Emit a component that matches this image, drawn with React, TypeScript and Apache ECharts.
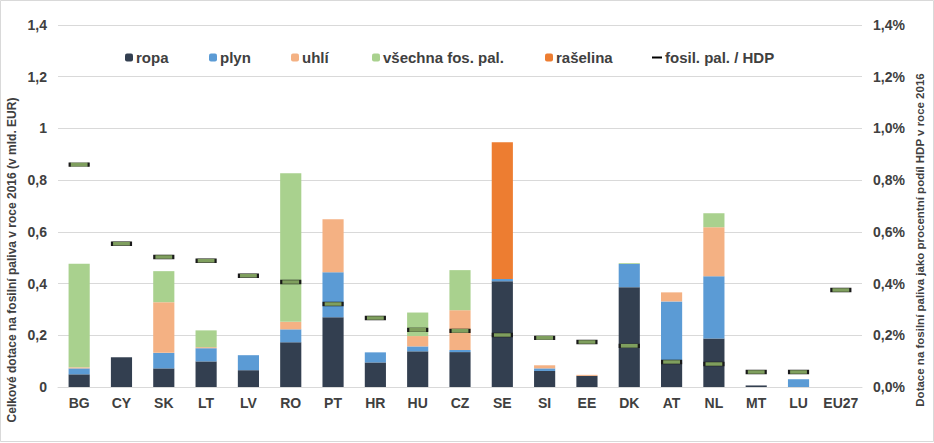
import React, { useEffect, useRef } from "react";
import * as echarts from "echarts";

const categories = ["BG","CY","SK","LT","LV","RO","PT","HR","HU","CZ","SE","SI","EE","DK","AT","NL","MT","LU","EU27"];
const ropa = [0.049,0.115,0.072,0.099,0.065,0.173,0.27,0.095,0.138,0.135,0.409,0.062,0.043,0.386,0.095,0.188,0.006,0,null];
const plyn = [0.023,0,0.06,0.051,0.058,0.05,0.174,0.039,0.019,0.008,0.009,0.01,0,0.09,0.236,0.24,0,0.03,null];
const uhli = [0.004,0,0.196,0.004,0,0.029,0.205,0,0.04,0.154,0,0.012,0.004,0,0.035,0.19,0,0,null];
const vsechna = [0.401,0,0.12,0.065,0,0.575,0,0,0.091,0.155,0,0,0,0.003,0,0.054,0,0,null];
const raselina = [0,0,0,0,0,0,0,0,0,0,0.529,0,0,0,0,0,0,0,null];
const hdp = [0.86,0.554,0.503,0.488,0.43,0.406,0.321,0.267,0.221,0.217,0.201,0.19,0.174,0.159,0.097,0.089,0.058,0.058,0.375];

const leftTicks = [0, 0.2, 0.4, 0.6, 0.8, 1, 1.2, 1.4];

const FONT = "'Liberation Sans', Arial, sans-serif";
const TXT = "#404040";

export default function App() {
  const ref = useRef<HTMLDivElement>(null);
  useEffect(() => {
    document.body.style.margin = "0";
    const chart = echarts.init(ref.current!, null, { renderer: "svg" });
    const legendBase = {
      top: 45,
      itemWidth: 8,
      itemHeight: 8,
      itemGap: 0,
      textStyle: { fontFamily: FONT, fontSize: 15, color: TXT, fontWeight: "bold" as const, padding: [0, 0, 0, -2] },
    };
    const bar = (name: string, data: (number | null)[], color: string) => ({
      name,
      type: "bar",
      stack: "a",
      data,
      barWidth: "50%",
      itemStyle: { color },
      emphasis: { disabled: true },
    });
    chart.setOption({
      animation: false,
      textStyle: { fontFamily: FONT },
      grid: { left: 58, right: 72, top: 25, bottom: 56 },
      legend: [
        { ...legendBase, left: 120, data: ["ropa"] },
        { ...legendBase, left: 204, data: ["plyn"] },
        { ...legendBase, left: 286, data: ["uhlí"] },
        { ...legendBase, left: 367, data: ["všechna fos. pal."] },
        { ...legendBase, left: 540, data: ["rašelina"] },
        {
          ...legendBase,
          left: 647,
          itemWidth: 10,
          itemHeight: 2,
          data: [{ name: "fosil. pal. / HDP", icon: "rect", itemStyle: { color: "#000", borderWidth: 0 } }],
        },
      ],
      xAxis: {
        type: "category",
        data: categories,
        axisLine: { lineStyle: { color: "#d9d9d9" } },
        axisTick: { show: false },
        axisLabel: { interval: 0, color: TXT, fontSize: 14, fontWeight: "bold", margin: 9, fontFamily: FONT },
      },
      yAxis: [
        {
          type: "value",
          min: 0,
          max: 1.4,
          interval: 0.2,
          splitLine: { lineStyle: { color: "#d9d9d9" } },
          axisLine: { show: false },
          axisTick: { show: false },
          axisLabel: {
            color: TXT,
            fontSize: 14,
            fontWeight: "bold",
            margin: 11,
            fontFamily: FONT,
            formatter: (v: number) => {
              const t = leftTicks.find((x) => Math.abs(x - v) < 1e-6);
              const val = t !== undefined ? t : v;
              return String(Math.round(val * 10) / 10).replace(".", ",");
            },
          },
        },
        {
          type: "value",
          min: 0,
          max: 1.4,
          interval: 0.2,
          splitLine: { show: false },
          axisLine: { show: false },
          axisTick: { show: false },
          axisLabel: {
            color: TXT,
            fontSize: 14,
            fontWeight: "bold",
            margin: 11,
            fontFamily: FONT,
            formatter: (v: number) => (Math.round(v * 10) / 10).toFixed(1).replace(".", ",") + "%",
          },
        },
      ],
      series: [
        bar("ropa", ropa, "#333f50"),
        bar("plyn", plyn, "#5b9bd5"),
        bar("uhlí", uhli, "#f4b183"),
        bar("všechna fos. pal.", vsechna, "#a9d18e"),
        bar("rašelina", raselina, "#ed7d31"),
        {
          name: "fosil. pal. / HDP",
          type: "scatter",
          yAxisIndex: 1,
          data: hdp,
          symbol: "rect",
          symbolSize: [19, 4],
          z: 10,
          itemStyle: { color: "#7f9f5e", borderColor: "#1a1a1a", borderWidth: 1, opacity: 1 },
          emphasis: { disabled: true },
        },
      ],
      graphic: [
        {
          type: "rect",
          shape: { x: 0.5, y: 0.5, width: 933, height: 441 },
          style: { fill: "none", stroke: "#d9d9d9", lineWidth: 1 },
          silent: true,
        },
        {
          type: "text",
          x: 12,
          y: 260,
          rotation: Math.PI / 2,
          style: {
            text: "Celkové dotace na fosilní paliva v roce 2016 (v mld. EUR)",
            fontFamily: FONT,
            fontSize: 12,
            fontWeight: "bold",
            fill: TXT,
            align: "center",
            verticalAlign: "middle",
          },
        },
        {
          type: "text",
          x: 920,
          y: 240,
          rotation: Math.PI / 2,
          style: {
            text: "Dotace na fosilní paliva jako procentní podíl HDP v roce 2016",
            fontFamily: FONT,
            fontSize: 11.5,
            fontWeight: "bold",
            fill: TXT,
            align: "center",
            verticalAlign: "middle",
          },
        },
      ],
    });
    return () => chart.dispose();
  }, []);
  return <div ref={ref} style={{ width: 934, height: 443 }} />;
}
